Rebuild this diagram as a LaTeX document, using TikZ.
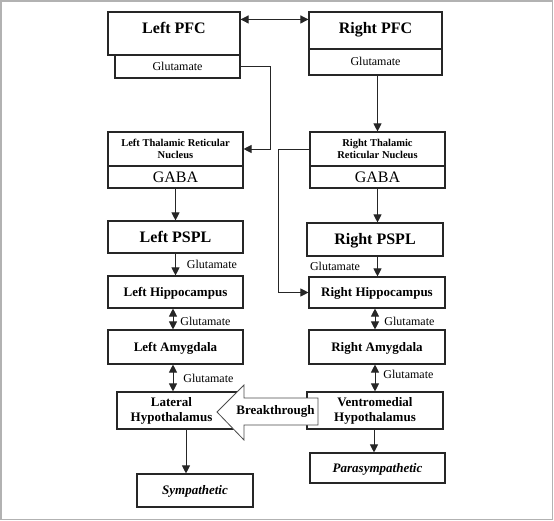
\documentclass[tikz,border=0pt]{standalone}
\usepackage{fontspec}
\setmainfont{Liberation Serif}
\usetikzlibrary{
  arrows.meta,
  positioning,
  backgrounds
}

\begin{document}
\begin{tikzpicture}[
      x=1pt,y=-1pt,
      region/.style={
         rectangle,
         minimum width=135pt,
         draw=black!85,
         line width=1.1pt,
         inner sep=0pt,
         font=\bfseries\fontsize{16}{18}\selectfont,
         text height=10.6pt,
         text depth=0pt
      },
      nucleus/.style={
         region,
         font=\bfseries\fontsize{13}{15}\selectfont,
         text height=8.6pt
      },
      reticular/.style={
         region,
         font=\bfseries\fontsize{10.5}{12}\selectfont,
         text height=,text depth=,
         align=center
      },
      twoline/.style={
         nucleus,
         text height=,text depth=,
         align=center
      },
      outflow/.style={
         nucleus,
         font=\bfseries\itshape\fontsize{13}{15}\selectfont
      },
      transmitter/.style={
         region,
         font=\fontsize{12}{14}\selectfont,
         text height=8pt
      },
      gaba/.style={
         region,
         font=\fontsize{16}{18}\selectfont
      },
      glu/.style={
         inner sep=0pt,
         font=\fontsize{12}{14}\selectfont,
         text height=8pt,
         text depth=0pt
      },
      bigarrow/.style={
         draw=black!70,
         line width=0.8pt,
         fill=white
      },
      point/.style={coordinate},>={Triangle[length=8pt,width=8pt]},line width=0.9pt,draw=black!85,
      tip/.style={->},
      both tip/.style={<->},
      hv path/.style={to path={-| (\tikztotarget)}},
      vh path/.style={to path={|- (\tikztotarget)}}
    ]
    \useasboundingbox (0,0) rectangle (554,521);
    \draw[gray!60, line width=1.5pt] (1,1) rectangle (552.5,519.5);

    % prefrontal cortex
    \node (n11) [region, minimum width=132pt, minimum height=43pt, text depth=11pt] at (174,33.5) {Left PFC};
    \node (n12) [region, minimum width=133pt, minimum height=37pt, text depth=4pt] at (375.5,30.5) {Right PFC};
    \node (n21) [transmitter, minimum width=125pt, minimum height=23pt] at (177.5,66.5) {Glutamate};
    \node (n22) [transmitter, minimum width=133pt, minimum height=26pt] at (375.5,62) {Glutamate};

    % thalamic reticular nucleus
    \node (n31) [reticular, minimum height=34pt] at (175.5,149) {Left Thalamic Reticular\\Nucleus};
    \node (n32) [reticular, minimum height=34pt] at (377.5,149) {Right Thalamic\\Reticular Nucleus};
    \node (n41) [gaba, minimum height=22pt] at (175.5,177) {GABA};
    \node (n42) [gaba, minimum height=22pt] at (377.5,177) {GABA};

    \node (n51) [region, minimum height=32pt] at (175.5,237) {Left PSPL};
    \node (n52) [region, minimum width=136pt, minimum height=33pt] at (375,239.5) {Right PSPL};
    \node (n61) [nucleus, minimum height=32pt] at (175.5,292) {Left Hippocampus};
    \node (n62) [nucleus, minimum width=136pt, minimum height=31pt] at (377,292.5) {Right Hippocampus};
    \node (n71) [nucleus, minimum height=34pt] at (175.5,347) {Left Amygdala};
    \node (n72) [nucleus, minimum width=136pt, minimum height=34pt] at (377,347) {Right Amygdala};

    % hypothalamus
    \node (n81) [twoline, minimum width=125pt, minimum height=37pt] at (179.5,410.5)
       {\begin{tabular}{@{}c@{}}Lateral\\Hypothalamus\end{tabular}\hspace*{16pt}};
    \node (n82) [twoline, minimum width=136pt, minimum height=37pt] at (375,410.5) {Ventromedial\\Hypothalamus};
    \node (n91) [outflow, minimum width=116pt, minimum height=33pt] at (195,490.5) {Sympathetic};
    \node (n92) [outflow, minimum height=30pt] at (377.5,468) {Parasympathetic};

    \draw [bigarrow] (318,398) -- (244,398) -- (244,385) -- (217,412) -- (244,440) -- (244,425) -- (318,425) -- cycle;
    \node (n83) [font=\bfseries\fontsize{13}{15}\selectfont, inner sep=0pt] at (275.5,411.5) {Breakthrough};

    \node (n23) [point] at (270,66.5) {};
    \node (n33) [point] at (278,149) {};

    % connectors
    \draw [both tip] ([yshift=-8pt]n11.north east) -- ([yshift=-8pt]n12.north west);
    \draw [tip] (n21.east) -- (n23) to[vh path] (n31.east);
    \draw [tip] (n22.south -| n32) -- (n32.north);
    \draw [tip] (n32.west) -- (n33) to[vh path] (n62.west);
    \draw [tip] (n41.south) -- (n41.south |- n51.north);
    \draw [tip] (n42.south) -- (n42.south |- n52.north);
    \draw [tip] (n51.south) -- (n51.south |- n61.north)
       node [glu, midway, right=11pt] {Glutamate};
    \draw [tip] (n52.south -| n42) -- (n62.north -| n42)
       node [glu, midway, left=17pt] {Glutamate};
    \draw [both tip] ([xshift=-2.5pt]n61.south) -- ([xshift=-2.5pt]n71.north)
       node [glu, midway, right=7pt, yshift=-2pt] {Glutamate};
    \draw [both tip] ([xshift=-2.5pt]n71.south) -- ([xshift=-2.5pt]n71.south |- n81.north)
       node [glu, midway, right=10pt] {Glutamate};
    \draw [both tip] ([xshift=-2pt]n62.south) -- ([xshift=-2pt]n72.north)
       node [glu, midway, right=9pt, yshift=-2pt] {Glutamate};
    \draw [both tip] ([xshift=-2pt]n72.south) -- ([xshift=-2pt]n72.south |- n82.north)
       node [glu, midway, right=8pt, yshift=4pt] {Glutamate};
    \draw [tip] ([xshift=6.5pt]n81.south) -- ([xshift=6.5pt]n81.south |- n91.north);
    \draw [tip] ([xshift=-1pt]n82.south) -- ([xshift=-1pt]n82.south |- n92.north);
\end{tikzpicture}
\end{document}
